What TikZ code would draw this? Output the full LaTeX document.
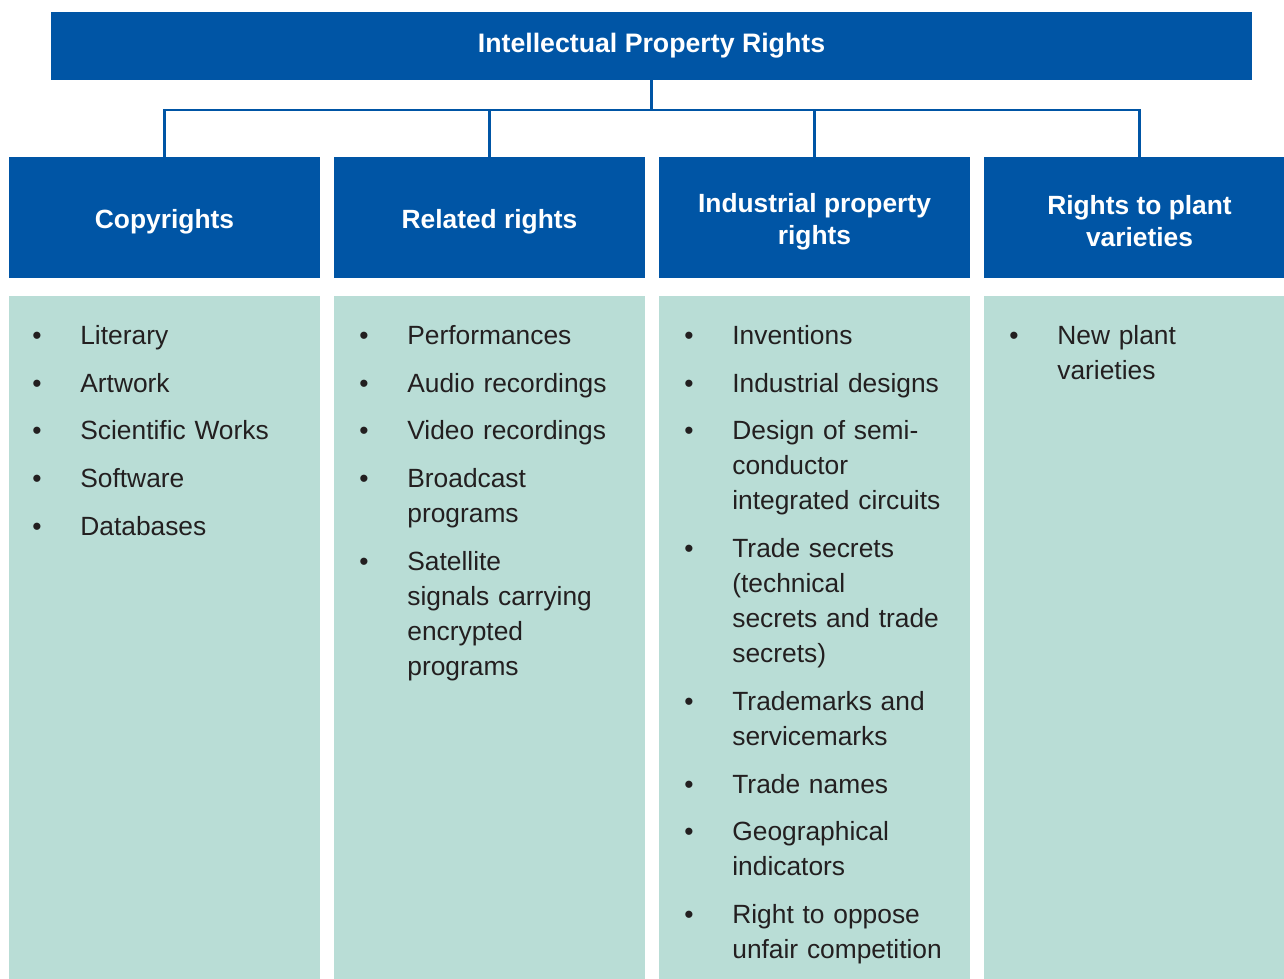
\documentclass[tikz,border=0pt]{standalone}
\usepackage{fontspec}
\setmainfont{Liberation Sans}
\definecolor{iprblue}{HTML}{0055A5}
\definecolor{iprteal}{HTML}{B9DDD6}
\definecolor{iprtext}{HTML}{231F20}
\newenvironment{iprlist}{%
  \begin{list}{\textbullet}{%
    \setlength{\leftmargin}{0.96cm}\setlength{\labelwidth}{0.96cm}%
    \setlength{\labelsep}{0pt}\setlength{\itemsep}{7.3pt}%
    \setlength{\parsep}{0pt}\setlength{\topsep}{0pt}%
    \setlength{\partopsep}{0pt}\setlength{\rightmargin}{0pt}%
    \renewcommand{\makelabel}[1]{##1\hfil}}}%
  {\end{list}}
\begin{document}
\begin{tikzpicture}[x=0.02cm,y=-0.02cm]
\fontsize{15pt}{19.9pt}\selectfont
\useasboundingbox (0,0) rectangle (1284,979);
\begin{scope}[
  title/.style={rectangle,fill=iprblue,text=white,
                font={\fontsize{15.2pt}{18pt}\selectfont\bfseries},
                minimum width=24.02cm,minimum height=1.36cm,inner sep=0pt},
  headtext/.style={text=white,align=center,yshift=-2.2pt,
               font={\fontsize{15pt}{18.1pt}\selectfont\bfseries}},
  head/.style={rectangle,fill=iprblue,label={[headtext]center:{#1}},
               minimum width=6.22cm,minimum height=2.42cm,inner sep=0pt},
  body/.style={rectangle,fill=iprteal,anchor=north,
               minimum width=6.22cm,minimum height=13.66cm,inner sep=0pt},
  items/.style={anchor=north west,inner sep=0pt,text width=5.7cm,
                align=left,text=iprtext},
  link/.style={draw=iprblue,line width=1.25pt}]
    \node [title] (0) at (651.5,46) {Intellectual Property Rights};
    \node [head={Copyrights}] (1) at (164.5,217.5) {};
    \node [head={Related rights}] (2) at (489.5,217.5) {};
    \node [head={Industrial property\\rights}] (3) at (814.5,217.5) {};
    \node [head={Rights to plant\\varieties}] (4) at (1139.5,217.5) {};
    \node [body] (5) at (164.5,296) {};
    \node [body] (6) at (489.5,296) {};
    \node [body] (7) at (814.5,296) {};
    \node [body] (8) at (1139.5,296) {};
    \coordinate (bus) at (651.5,110);
    \path [link] (0.south) -- (bus);
    \foreach \h in {1,2,3,4}
        \path [link] (bus) -| (\h.north);
    \node [items] (9) at (32,309) {\begin{iprlist}
        \item Literary
        \item Artwork
        \item Scientific Works
        \item Software
        \item Databases
    \end{iprlist}};
    \node [items] (10) at (359,309) {\begin{iprlist}
        \item Performances
        \item Audio recordings
        \item Video recordings
        \item Broadcast\\programs
        \item Satellite\\signals carrying\\encrypted\\programs
    \end{iprlist}};
    \node [items] (11) at (684,309) {\begin{iprlist}
        \item Inventions
        \item Industrial designs
        \item Design of semi-\\conductor\\integrated circuits
        \item Trade secrets\\(technical\\secrets and trade\\secrets)
        \item Trademarks and\\servicemarks
        \item Trade names
        \item Geographical\\indicators
        \item Right to oppose\\unfair competition
    \end{iprlist}};
    \node [items] (12) at (1009,309) {\begin{iprlist}
        \item New plant\\varieties
    \end{iprlist}};
\end{scope}
\end{tikzpicture}
\end{document}
